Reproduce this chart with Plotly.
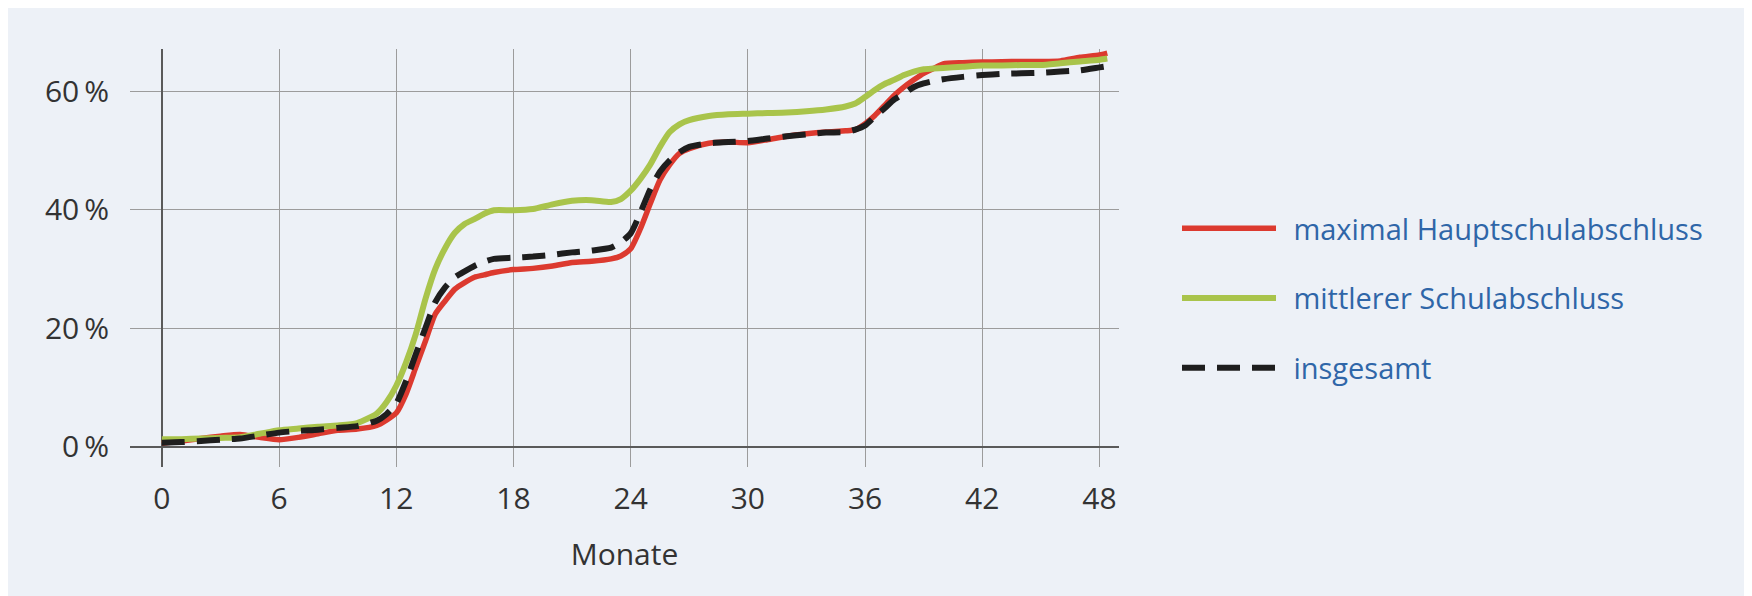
import plotly.graph_objects as go

months = [0, 1, 2, 3, 4, 5, 6, 7, 8, 9, 10, 11, 11.5, 12, 12.5, 13, 13.5, 14, 14.5, 15, 15.5,
          16, 16.5, 17, 18, 19, 20, 21, 22, 23, 23.5, 24, 24.5, 25, 25.5, 26, 26.5, 27, 28, 29,
          30, 31, 32, 33, 34, 35, 35.5, 36, 36.5, 37, 37.5, 38, 38.5, 39, 39.5, 40, 41, 42, 43,
          44, 45, 46, 47, 48, 48.4]

hauptschule = [0.6, 1.0, 1.4, 1.8, 2.1, 1.6, 1.2, 1.6, 2.2, 2.8, 3.0, 3.6, 4.5, 5.7, 8.9, 13.4, 17.9,
               22.4, 24.6, 26.6, 27.7, 28.6, 29.0, 29.4, 29.9, 30.1, 30.5, 31.1, 31.3, 31.7, 32.2,
               33.4, 36.8, 41.0, 45.0, 47.6, 49.5, 50.3, 51.2, 51.4, 51.3, 51.8, 52.4, 52.8, 53.1,
               53.3, 53.5, 54.5, 55.9, 57.6, 59.3, 60.7, 61.9, 63.0, 63.8, 64.6, 64.8, 64.9, 64.95,
               65.0, 65.0, 65.1, 65.7, 66.1, 66.4]

mittlerer = [1.3, 1.3, 1.4, 1.5, 1.6, 2.2, 2.8, 3.1, 3.4, 3.6, 4.0, 5.6, 7.5, 10.3, 14.2, 19.0, 25.0,
             30.0, 33.5, 36.1, 37.6, 38.4, 39.3, 39.9, 39.9, 40.1, 40.9, 41.5, 41.6, 41.3, 41.8,
             43.2, 45.2, 47.6, 50.6, 53.1, 54.4, 55.1, 55.8, 56.1, 56.2, 56.3, 56.4, 56.6, 56.9,
             57.4, 57.9, 59.0, 60.2, 61.2, 61.9, 62.7, 63.3, 63.7, 63.8, 63.9, 64.1, 64.3, 64.3,
             64.4, 64.4, 64.7, 65.0, 65.3, 65.5]

insgesamt = [0.7, 0.8, 1.0, 1.2, 1.4, 1.9, 2.4, 2.7, 2.9, 3.2, 3.5, 4.4, 5.5, 7.3, 11.1, 15.6, 20.1,
             24.4, 26.9, 28.6, 29.6, 30.5, 31.2, 31.7, 31.9, 32.1, 32.4, 32.8, 33.1, 33.6, 34.5,
             36.0, 39.5, 43.4, 46.4, 48.3, 49.7, 50.6, 51.2, 51.4, 51.6, 52.0, 52.4, 52.7, 53.0,
             53.1, 53.5, 54.2, 55.7, 57.1, 58.6, 59.6, 60.7, 61.3, 61.7, 62.0, 62.4, 62.7, 62.9,
             63.0, 63.1, 63.3, 63.5, 64.0, 64.2]

series_names = ["maximal Hauptschulabschluss", "mittlerer Schulabschluss", "insgesamt"]
x_ticks = [0, 6, 12, 18, 24, 30, 36, 42, 48]
y_ticks = [0, 20, 40, 60]
y_tick_labels = ["0\u2009%", "20\u2009%", "40\u2009%", "60\u2009%"]
x_title = "Monate"

RED = "#DC3A2F"
GREEN = "#A9C44B"
BLACK = "#1E1E1E"
PANEL = "#EDF1F7"
TEXT = "#333333"
LEGEND_TEXT = "#2F66A8"
FONT = "Open Sans"
LEGEND_GAP = "\u00a0\u2006"

# page body margin of 8px surrounds the figure
OFF = 8
W, H = 1752 - 2 * OFF, 596 - OFF
L, R, T, B = 122, 625, 41, 129
PW, PH = W - L - R, H - T - B


def px_x(p):
    return (p - OFF - L) / PW


def px_y(p):
    return 1 - (p - OFF - T) / PH


fig = go.Figure()
for name, vals, color, width, dash in [
    (series_names[0], hauptschule, RED, 5.5, "solid"),
    (series_names[1], mittlerer, GREEN, 6, "solid"),
    (series_names[2], insgesamt, BLACK, 6, "23px,12px"),
]:
    fig.add_trace(go.Scatter(
        x=months, y=vals, name=LEGEND_GAP + name, mode="lines", legendgroup=name,
        line=dict(color=color, width=width, dash=dash, shape="spline", smoothing=0.6),
        hoverinfo="skip",
    ))

fig.update_layout(
    width=W, height=H,
    margin=dict(l=L, r=R, t=T, b=B, pad=0, autoexpand=False),
    paper_bgcolor=PANEL,
    plot_bgcolor=PANEL,
    font=dict(family=FONT, size=30, color=TEXT),
    showlegend=True,
    legend=dict(
        x=px_x(1177), xanchor="left",
        y=px_y(203), yanchor="top",
        bgcolor="rgba(0,0,0,0)",
        font=dict(family=FONT, size=29, color=LEGEND_TEXT),
        itemwidth=94,
        traceorder="grouped",
        tracegroupgap=29,
    ),
    xaxis=dict(
        range=[-1.63, 49.0],
        tickvals=x_ticks,
        ticktext=[str(v) for v in x_ticks],
        showgrid=True, gridcolor="#9C9C9C", gridwidth=1.3,
        zeroline=True, zerolinecolor="#5A5A5A", zerolinewidth=2,
        showline=False, ticks="",
        tickfont=dict(size=30, color=TEXT),
        ticklabelstandoff=11,
        title=dict(text=x_title, font=dict(size=30, color=TEXT), standoff=26),
        automargin=False,
        fixedrange=True,
    ),
    yaxis=dict(
        range=[-3.4, 67.1],
        tickvals=y_ticks,
        ticktext=y_tick_labels,
        showgrid=True, gridcolor="#9C9C9C", gridwidth=1.3,
        zeroline=True, zerolinecolor="#5A5A5A", zerolinewidth=2,
        showline=False, ticks="",
        tickfont=dict(size=30, color=TEXT),
        ticklabelstandoff=20,
        automargin=False,
        fixedrange=True,
    ),
)

fig.write_html(
    "out.html",
    config={"displayModeBar": False},
    post_script="document.documentElement.style.overflow='hidden';document.body.style.overflow='hidden';",
)
